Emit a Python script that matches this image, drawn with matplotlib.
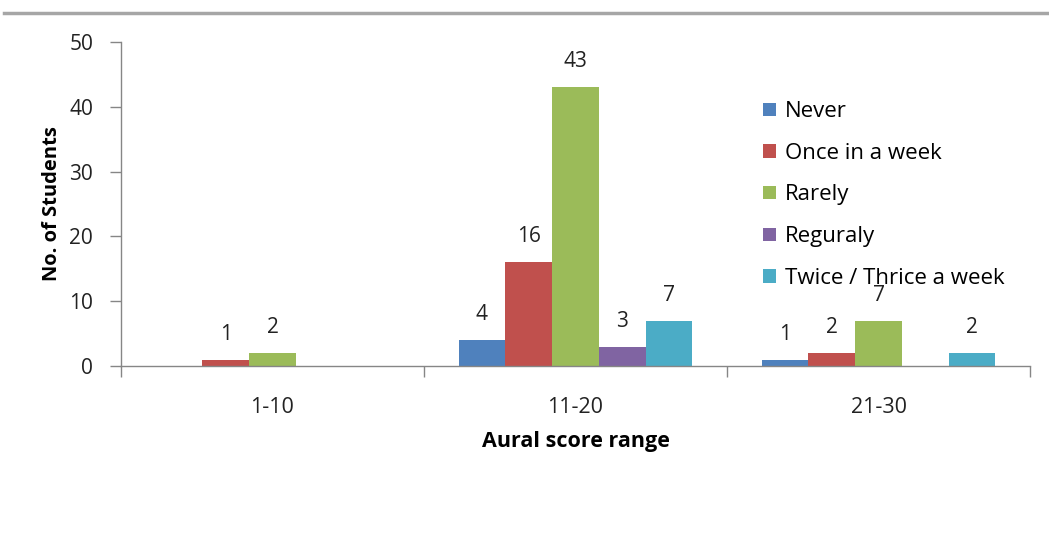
import numpy as np
import matplotlib
matplotlib.use('Agg')
import matplotlib.pyplot as plt
from matplotlib.lines import Line2D

plt.rcParams['font.family'] = ['Open Sans', 'DejaVu Sans']

score_ranges = ['1-10', '11-20', '21-30']
series_names = ['Never', 'Once in a week', 'Rarely', 'Reguraly', 'Twice / Thrice a week']
never = [0, 4, 1]
once_a_week = [1, 16, 2]
rarely = [2, 43, 7]
regularly = [0, 3, 0]
twice_thrice = [0, 7, 2]
series_values = [never, once_a_week, rarely, regularly, twice_thrice]
series_colors = ['#4F81BD', '#C0504D', '#9BBB59', '#8064A2', '#4BACC6']

fig = plt.figure(figsize=(10.49, 5.44), dpi=100)
ax = fig.add_axes([0.1153, 0.3272, 0.8666, 0.5956])

# thin grey rule across the top of the figure
fig.add_artist(Line2D([0.004, 1.0], [0.976, 0.976], transform=fig.transFigure,
                      color='#A6A6A6', linewidth=2.5))

x = np.arange(len(score_ranges))
bar_w = 0.1544
axis_grey = '#868686'
text_col = '#222222'

for i, (name, vals, col) in enumerate(zip(series_names, series_values, series_colors)):
    offs = (i - 2) * bar_w
    vals = np.array(vals)
    ax.bar(x + offs, vals, width=bar_w, color=col, label=name, linewidth=0)
    for xi, v in zip(x + offs, vals):
        if v > 0:
            ax.text(xi, v + 2.3, f'{v}', ha='center', va='bottom', fontsize=15,
                    color=text_col)

ax.set_xlim(-0.5, 2.5)
ax.set_ylim(0, 50)
ax.set_yticks(range(0, 51, 10))
ax.set_xticks(x)
ax.set_xticklabels(score_ranges, fontsize=15.5, color=text_col)
ax.tick_params(axis='x', length=0, pad=22)
# category boundary ticks
ax.set_xticks([-0.5, 0.5, 1.5, 2.5], minor=True)
ax.tick_params(axis='x', which='minor', length=8, color=axis_grey, width=1)
ax.tick_params(axis='y', length=8, color=axis_grey, width=1, labelsize=15,
               labelcolor=text_col, pad=12)

for side in ['top', 'right']:
    ax.spines[side].set_visible(False)
for side in ['left', 'bottom']:
    ax.spines[side].set_color(axis_grey)
    ax.spines[side].set_linewidth(1)

ax.set_xlabel('Aural score range', fontsize=15.5, fontweight='bold', labelpad=10)
ax.set_ylabel('No. of Students', fontsize=14.5, fontweight='bold', labelpad=5)

ax.legend(loc='upper left', bbox_to_anchor=(0.697, 0.845), frameon=False,
          fontsize=16, handlelength=0.55, handleheight=0.55, handletextpad=0.42,
          labelspacing=0.93, borderaxespad=0)

plt.savefig('out.png', dpi=100)
